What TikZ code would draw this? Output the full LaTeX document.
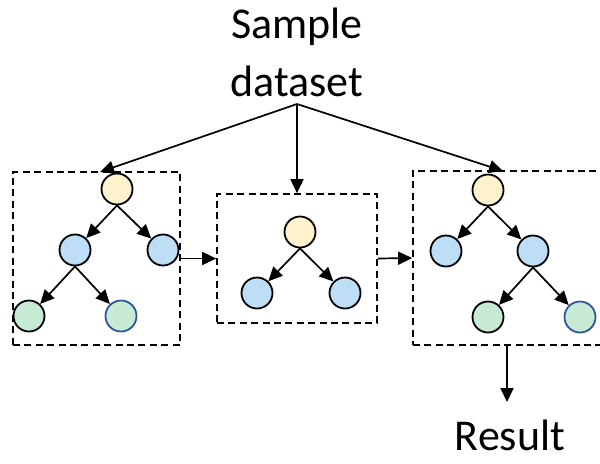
\documentclass[tikz,border=0pt]{standalone}
\usepackage{fontspec}
\setmainfont{Carlito}
\usetikzlibrary{arrows.meta}

\definecolor{rootfill}{RGB}{255,242,204}
\definecolor{midfill}{RGB}{189,222,245}
\definecolor{leaffill}{RGB}{198,234,212}
\definecolor{leafedge}{RGB}{47,85,151}

\tikzset{
    tnode/.style={circle, draw=black, line width=0.9pt, inner sep=0pt, minimum size=15.5pt},
    rootnode/.style={tnode, fill=rootfill},
    midnode/.style={tnode, fill=midfill},
    leafnode/.style={tnode, fill=leaffill},
    bagbox/.style={draw, line width=0.85pt, dash pattern=on 3.5pt off 2.2pt, inner sep=0pt},
    arr/.style={line width=0.85pt, -{Triangle[length=7pt, width=6.5pt]}},
    bigtext/.style={font=\fontsize{22}{29}\selectfont, align=center}
}

\begin{document}
\begin{tikzpicture}[x=0.5pt, y=-0.5pt]
    % MARCS DE LA IMATGE
    \useasboundingbox (0,0) rectangle (600,463);
    \clip (0,0) rectangle (600,463);

    % TEXTOS
    \node[bigtext, anchor=south, inner sep=3.5pt] (src) at (297,104) {Sample\\dataset};
    \node[bigtext, anchor=base, inner sep=0pt] (res) at (510,450) {Result};

    % CAIXES DISCONTINUES
    \node[bagbox, minimum width=83.5pt, minimum height=86.5pt] (boxL) at (96.5,258.5) {};
    \node[bagbox, minimum width=80pt, minimum height=64.5pt] (boxM) at (297,258.5) {};
    \node[bagbox, minimum width=113.5pt, minimum height=87pt] (boxR) at (526.5,258) {};

    % ARBRE ESQUERRE
    \node[rootnode] (L0) at (117,189) {};
    \node[midnode] (L1) at (75,250) {};
    \node[midnode] (L2) at (163,250) {};
    \node[leafnode] (L3) at (29,316) {};
    \node[leafnode, draw=leafedge] (L4) at (121,316) {};

    % ARBRE DEL MIG
    \node[rootnode] (M0) at (300,232) {};
    \node[midnode] (M1) at (257,293) {};
    \node[midnode] (M2) at (345,293) {};

    % ARBRE DRET
    \node[rootnode] (R0) at (488,190) {};
    \node[midnode] (R1) at (446,251) {};
    \node[midnode] (R2) at (533,251) {};
    \node[leafnode] (R3) at (488,317) {};
    \node[leafnode, draw=leafedge] (R4) at (580,317) {};

    % BRANQUES
    \foreach \p/\c in {L0/L1, L0/L2, L1/L3, L1/L4, M0/M1, M0/M2, R0/R1, R0/R2, R2/R3, R2/R4} {
        \draw[arr] (\p.south) -- (\c);
    }

    % FLETXES DE LA MOSTRA I DEL RESULTAT
    \coordinate (inL) at (100,172);
    \coordinate (inR) at (503,171);
    \coordinate (outR) at (507,345);
    \coordinate (resTip) at (507,402);
    \draw[arr] (src.south) -- (inL);
    \draw[arr] (src.south) -- (boxM.north);
    \draw[arr] (src.south) -- (inR);
    \draw[arr] (boxL.east) -- (boxM.west);
    \draw[arr] (boxM.east) -- (boxR.west);
    \draw[arr] (outR) -- (resTip);
\end{tikzpicture}
\end{document}
